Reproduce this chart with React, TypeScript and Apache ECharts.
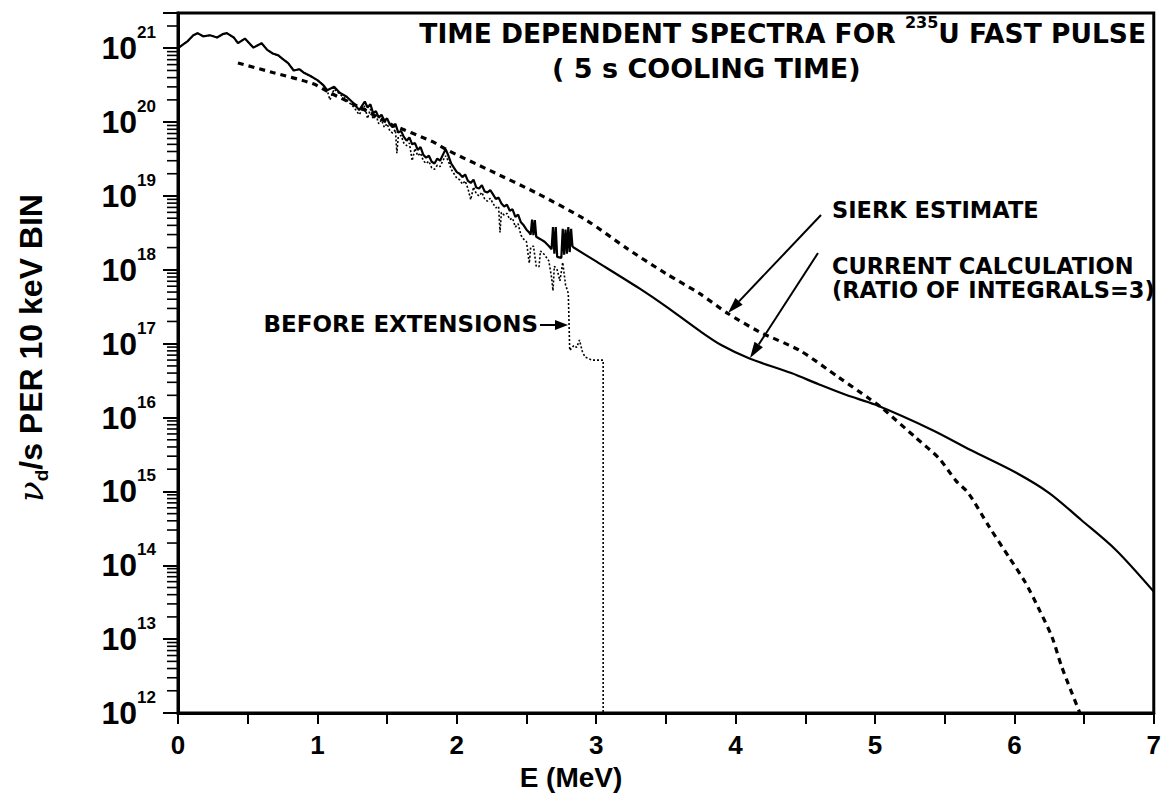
import React, { useEffect, useRef } from 'react';
import * as echarts from 'echarts';

// ---------- data ----------
const xTickValues = [0, 1, 2, 3, 4, 5, 6, 7];
const yExponents = [12, 13, 14, 15, 16, 17, 18, 19, 20, 21];
const minorMantissas = [2, 3, 4, 5, 6, 7, 8, 9];

// current calculation, noisy (histogram) part
const currentNoisy: [number, number][] = [
  [0.0, 1.0e21], [0.03, 1.1e21], [0.07, 1.25e21], [0.11, 1.5e21], [0.14, 1.6e21],
  [0.18, 1.45e21], [0.23, 1.5e21], [0.28, 1.4e21], [0.32, 1.55e21], [0.35, 1.6e21],
  [0.4, 1.4e21], [0.43, 1.17e21], [0.48, 1.35e21], [0.54, 1.02e21], [0.6, 1.17e21],
  [0.64, 9.5e20], [0.68, 8.5e20], [0.72, 8.0e20], [0.75, 7.2e20], [0.79, 6.3e20],
  [0.83, 5.0e20], [0.87, 5.2e20], [0.9, 4.7e20], [0.95, 4.2e20], [1.0, 3.7e20],
  [1.04, 3.2e20], [1.07, 2.7e20], [1.12, 3.0e20], [1.16, 2.5e20], [1.21, 2.2e20],
  [1.26, 1.8e20], [1.3, 1.45e20], [1.32, 1.66e20], [1.34, 1.9e20], [1.36, 1.58e20],
  [1.38, 1.74e20], [1.4, 1.32e20], [1.42, 1.41e20], [1.44, 1.15e20], [1.46, 1.26e20],
  [1.48, 1.05e20], [1.5, 1.12e20], [1.52, 9.3e19], [1.54, 8.5e19], [1.56, 9.5e19],
  [1.58, 7.2e19], [1.6, 7.6e19], [1.62, 6.3e19], [1.64, 5.6e19], [1.66, 6.2e19],
  [1.68, 5.0e19], [1.7, 5.2e19], [1.72, 4.2e19], [1.74, 4.6e19], [1.76, 3.6e19],
  [1.78, 3.3e19], [1.8, 3.5e19], [1.82, 2.9e19], [1.84, 2.75e19], [1.86, 3.2e19],
  [1.88, 3.0e19], [1.9, 3.6e19], [1.92, 4.3e19], [1.94, 3.5e19], [1.96, 2.75e19],
  [1.98, 2.4e19], [2.0, 2.1e19], [2.02, 2.0e19], [2.04, 1.8e19], [2.06, 1.95e19],
  [2.08, 1.6e19], [2.1, 1.5e19], [2.12, 1.66e19], [2.14, 1.3e19], [2.16, 1.26e19],
  [2.18, 1.4e19], [2.2, 1.15e19], [2.22, 1.12e19], [2.24, 1.2e19], [2.26, 1.05e19],
  [2.28, 9.1e18], [2.3, 9.5e18], [2.32, 7.9e18], [2.34, 7.2e18], [2.36, 7.6e18],
  [2.38, 6.3e18], [2.4, 6.6e18], [2.42, 5.2e18], [2.44, 5.6e18], [2.46, 4.4e18],
  [2.48, 4.0e18], [2.5, 3.5e18], [2.52, 3.2e18], [2.53, 3.0e18], [2.54, 4.8e18],
  [2.55, 2.95e18], [2.56, 4.7e18], [2.57, 2.8e18], [2.6, 2.6e18], [2.63, 2.4e18],
  [2.66, 2.1e18], [2.68, 1.9e18], [2.69, 3.8e18], [2.7, 1.66e18], [2.71, 3.8e18],
  [2.72, 1.5e18], [2.75, 1.45e18], [2.76, 3.6e18], [2.77, 1.6e18], [2.78, 3.5e18],
  [2.79, 1.66e18], [2.8, 3.8e18], [2.81, 1.74e18], [2.82, 3.6e18], [2.83, 2.05e18],
];

// current calculation, smooth extension
const currentSmooth: [number, number][] = [
  [2.83, 2.05e18], [3.0, 1.3e18], [3.31, 5.6e17], [3.5, 3.2e17], [3.74, 1.5e17],
  [3.9, 9.5e16], [4.1, 6.3e16], [4.4, 4.0e16], [4.6, 2.8e16], [4.8, 2.0e16],
  [5.0, 1.5e16], [5.41, 6.8e15], [5.69, 3.6e15], [6.01, 1.8e15], [6.25, 9.5e14],
  [6.48, 4.1e14], [6.73, 1.6e14], [7.0, 4.4e13],
];

// before extensions (thin dotted)
const beforeExtensions: [number, number][] = [
  [0.0, 1.0e21], [0.03, 1.1e21], [0.07, 1.25e21], [0.11, 1.5e21], [0.14, 1.6e21],
  [0.18, 1.45e21], [0.23, 1.5e21], [0.28, 1.4e21], [0.32, 1.55e21], [0.35, 1.6e21],
  [0.4, 1.4e21], [0.43, 1.17e21], [0.48, 1.35e21], [0.54, 1.02e21], [0.6, 1.17e21],
  [0.64, 9.5e20], [0.68, 8.5e20], [0.72, 8.0e20], [0.75, 7.2e20], [0.79, 6.3e20],
  [0.83, 5.0e20], [0.87, 5.2e20], [0.9, 4.7e20], [0.95, 4.2e20], [1.0, 3.7e20],
  [1.04, 3.2e20], [1.07, 2.7e20], [1.09, 2.0e20], [1.12, 2.8e20], [1.16, 2.4e20],
  [1.21, 2.0e20], [1.26, 1.6e20], [1.3, 1.26e20], [1.32, 1.45e20], [1.34, 1.66e20],
  [1.36, 1.12e20], [1.38, 1.5e20], [1.4, 1.1e20], [1.42, 1.26e20], [1.44, 9.5e19],
  [1.46, 1.07e20], [1.48, 8.5e19], [1.5, 9.5e19], [1.52, 7.6e19], [1.54, 7.1e19],
  [1.56, 7.9e19], [1.57, 3.8e19], [1.58, 6.3e19], [1.6, 6.6e19], [1.62, 5.2e19],
  [1.64, 4.8e19], [1.66, 5.2e19], [1.68, 3.0e19], [1.7, 4.4e19], [1.72, 3.5e19],
  [1.74, 3.8e19], [1.76, 3.0e19], [1.78, 2.75e19], [1.8, 2.95e19], [1.82, 2.4e19],
  [1.84, 2.3e19], [1.86, 2.6e19], [1.88, 2.5e19], [1.9, 3.0e19], [1.92, 3.5e19],
  [1.94, 2.95e19], [1.96, 2.3e19], [1.98, 2.0e19], [2.0, 1.74e19], [2.02, 1.66e19],
  [2.04, 1.45e19], [2.06, 1.6e19], [2.08, 1.26e19], [2.1, 8.9e18], [2.12, 1.32e19],
  [2.14, 1.07e19], [2.16, 1.0e19], [2.18, 1.12e19], [2.2, 9.1e18], [2.22, 8.5e18],
  [2.24, 9.3e18], [2.26, 7.9e18], [2.28, 6.9e18], [2.3, 7.2e18], [2.31, 3.2e18],
  [2.32, 6.0e18], [2.34, 5.5e18], [2.36, 5.8e18], [2.38, 4.8e18], [2.4, 5.0e18],
  [2.42, 3.8e18], [2.44, 4.2e18], [2.46, 2.95e18], [2.48, 2.6e18], [2.5, 2.4e18],
  [2.52, 1.23e18], [2.53, 2.0e18], [2.55, 2.1e18], [2.57, 1.12e18], [2.59, 1.1e18],
  [2.6, 1.8e18], [2.63, 1.6e18], [2.66, 1.32e18], [2.68, 7.9e17], [2.69, 5.2e17],
  [2.7, 1.12e18], [2.72, 1.0e18], [2.74, 7.1e17], [2.76, 1.26e18], [2.78, 6.3e17],
  [2.8, 4.8e17], [2.81, 8.1e16], [2.84, 9.5e16], [2.86, 8.9e16], [2.88, 1.12e17],
  [2.9, 7.9e16], [2.92, 6.6e16], [2.97, 6.0e16], [3.05, 6.0e16], [3.05, 1.0e12],
];

// Sierk estimate (dashed)
const sierkEstimate: [number, number][] = [
  [0.43, 6.3e20], [0.68, 4.7e20], [0.97, 3.3e20], [1.09, 2.5e20], [1.3, 1.6e20],
  [1.52, 9.5e19], [1.83, 5.4e19], [1.93, 4.2e19], [2.24, 2.2e19], [2.57, 1.1e19],
  [2.93, 4.7e18], [3.22, 1.95e18], [3.5, 8.9e17], [3.74, 4.8e17], [3.94, 2.6e17],
  [4.17, 1.45e17], [4.46, 8.1e16], [4.74, 3.5e16], [4.96, 1.8e16], [5.05, 1.35e16],
  [5.29, 5.4e15], [5.46, 2.8e15], [5.58, 1.4e15], [5.67, 9.5e14], [5.82, 3.3e14],
  [5.96, 1.3e14], [6.08, 5.8e13], [6.17, 2.7e13], [6.27, 1.07e13], [6.34, 4.2e12],
  [6.47, 1.0e12],
];

const titleLine1 = 'TIME DEPENDENT SPECTRA FOR ';
const titleIsotope = '235';
const titleLine1b = 'U FAST PULSE';
const titleLine2 = '( 5 s COOLING TIME)';
const xAxisTitle = 'E (MeV)';
const labelSierk = 'SIERK ESTIMATE';
const labelCurrent1 = 'CURRENT CALCULATION';
const labelCurrent2 = '(RATIO OF INTEGRALS=3)';
const labelBefore = 'BEFORE EXTENSIONS';

const ANN = 'DejaVu Sans, Liberation Sans, Arial, sans-serif';
const AX = 'Liberation Sans, Arial, Helvetica, sans-serif';

function arrow(x1: number, y1: number, x2: number, y2: number, head = 14, half = 5) {
  const dx = x2 - x1;
  const dy = y2 - y1;
  const len = Math.sqrt(dx * dx + dy * dy);
  const ux = dx / len;
  const uy = dy / len;
  const bx = x2 - ux * head;
  const by = y2 - uy * head;
  return [
    {
      type: 'line',
      shape: { x1, y1, x2: bx, y2: by },
      style: { stroke: '#000', lineWidth: 2 },
      silent: true,
    },
    {
      type: 'polygon',
      shape: {
        points: [
          [x2, y2],
          [bx - uy * half, by + ux * half],
          [bx + uy * half, by - ux * half],
        ],
      },
      style: { fill: '#000' },
      silent: true,
    },
  ];
}

function txt(x: number, y: number, text: string, size: number, align = 'left', family = ANN) {
  return {
    type: 'text',
    x,
    y,
    silent: true,
    style: {
      text,
      fill: '#000',
      fontSize: size,
      fontWeight: 'bold',
      fontFamily: family,
      align,
      textAlign: align,
      verticalAlign: 'middle',
      textVerticalAlign: 'middle',
    },
  };
}

export default function App() {
  const ref = useRef<HTMLDivElement>(null);

  useEffect(() => {
    if (!ref.current) return;
    const chart = echarts.init(ref.current, undefined, { renderer: 'svg' });

    const minorTickData: [number, number][] = [];
    for (const e of yExponents) {
      for (const m of minorMantissas) {
        const v = m * Math.pow(10, e);
        if (v <= 3.0001e21) minorTickData.push([0, v]);
      }
    }

    const option: any = {
      animation: false,
      backgroundColor: '#fff',
      grid: {
        left: 178,
        right: 9,
        top: 13,
        bottom: 82,
        show: true,
        borderColor: '#000',
        borderWidth: 3,
        backgroundColor: 'transparent',
      },
      xAxis: {
        type: 'value',
        min: 0,
        max: 7,
        interval: 1,
        axisLine: { show: true, onZero: false, lineStyle: { color: '#000', width: 3 } },
        axisTick: { show: true, inside: false, length: 11, lineStyle: { color: '#000', width: 2 } },
        minorTick: { show: true, splitNumber: 2, length: 11, lineStyle: { color: '#000', width: 2 } },
        splitLine: { show: false },
        axisLabel: {
          margin: 19,
          color: '#000',
          fontSize: 26,
          fontWeight: 'bold',
          fontFamily: AX,
          formatter: (v: number) => (xTickValues.includes(Math.round(v)) ? String(Math.round(v)) : ''),
        },
      },
      yAxis: {
        type: 'log',
        logBase: 10,
        min: 1e12,
        max: 3e21,
        axisLine: { show: true, onZero: false, lineStyle: { color: '#000', width: 3 } },
        axisTick: { show: true, inside: false, length: 15, lineStyle: { color: '#000', width: 2 } },
        splitLine: { show: false },
        axisLabel: {
          margin: 22,
          color: '#000',
          formatter: (v: number) => {
            const l = Math.log10(v);
            const e = Math.round(l);
            if (Math.abs(l - e) > 1e-6 || !yExponents.includes(e)) return '';
            return `{b|10}{s|${e}}`;
          },
          rich: {
            b: { fontSize: 32, fontWeight: 'bold', fontFamily: AX, color: '#000', lineHeight: 48 },
            s: { fontSize: 17, fontWeight: 'bold', fontFamily: AX, color: '#000', lineHeight: 17, verticalAlign: 'top' },
          },
        },
      },
      series: [
        {
          type: 'custom',
          name: 'minor ticks',
          coordinateSystem: 'cartesian2d',
          clip: false,
          silent: true,
          z: 5,
          data: minorTickData,
          renderItem: (params: any, api: any) => {
            const p = api.coord([0, api.value(1)]);
            return {
              type: 'line',
              shape: { x1: p[0] - 11, y1: p[1], x2: p[0], y2: p[1] },
              style: { stroke: '#000', lineWidth: 1.6 },
            };
          },
        },
        {
          type: 'line',
          name: 'before extensions',
          data: beforeExtensions,
          showSymbol: false,
          symbol: 'none',
          z: 2,
          lineStyle: { color: '#000', width: 1.6, type: [2, 2] },
        },
        {
          type: 'line',
          name: 'current calculation',
          data: currentNoisy,
          showSymbol: false,
          symbol: 'none',
          z: 3,
          lineStyle: { color: '#000', width: 2.2 },
        },
        {
          type: 'line',
          name: 'current calculation (ext)',
          data: currentSmooth,
          showSymbol: false,
          symbol: 'none',
          smooth: 0.3,
          z: 3,
          lineStyle: { color: '#000', width: 2.2 },
        },
        {
          type: 'line',
          name: 'Sierk estimate',
          data: sierkEstimate,
          showSymbol: false,
          symbol: 'none',
          smooth: 0.25,
          z: 3,
          lineStyle: { color: '#000', width: 3.2, type: [6, 5] },
        },
      ],
      graphic: [
        {
          type: 'text',
          x: 1146,
          y: 33,
          silent: true,
          style: {
            text: `{t|${titleLine1}}{s|${titleIsotope}}{t|${titleLine1b}}`,
            align: 'right',
            textAlign: 'right',
            verticalAlign: 'middle',
            textVerticalAlign: 'middle',
            rich: {
              t: { fontSize: 26.5, fontWeight: 'bold', fontFamily: ANN, color: '#000', lineHeight: 38 },
              s: { fontSize: 16, fontWeight: 'bold', fontFamily: ANN, color: '#000', lineHeight: 16, verticalAlign: 'top' },
            },
          },
        },
        txt(552, 68, titleLine2, 27),
        txt(832, 210, labelSierk, 22.5),
        txt(832, 266, labelCurrent1, 22.5),
        txt(832, 290, labelCurrent2, 22.5),
        txt(538, 324, labelBefore, 23, 'right'),
        ...arrow(540, 325, 568, 325, 13, 5),
        ...arrow(821, 215, 728, 313, 16, 5),
        ...arrow(818, 253, 750, 358, 16, 5),
        txt(571, 777, xAxisTitle, 28, 'center', AX),
        {
          type: 'text',
          x: 31,
          y: 348,
          rotation: Math.PI / 2,
          silent: true,
          style: {
            text: '{n|\u03bd}{d|d}{t|/s PER 10 keV BIN}',
            align: 'center',
            textAlign: 'center',
            verticalAlign: 'middle',
            textVerticalAlign: 'middle',
            rich: {
              n: { fontSize: 34, fontStyle: 'italic', fontFamily: 'DejaVu Serif, Liberation Serif, serif', color: '#000', lineHeight: 40 },
              d: { fontSize: 19, fontWeight: 'bold', fontFamily: AX, color: '#000', lineHeight: 19, verticalAlign: 'bottom' },
              t: { fontSize: 32, fontWeight: 'bold', fontFamily: AX, color: '#000', lineHeight: 40 },
            },
          },
        },
      ],
    };

    chart.setOption(option);
    return () => {
      chart.dispose();
    };
  }, []);

  return (
    <div
      ref={ref}
      style={{ position: 'fixed', left: 0, top: 0, width: 1164, height: 795, background: '#fff' }}
    />
  );
}
